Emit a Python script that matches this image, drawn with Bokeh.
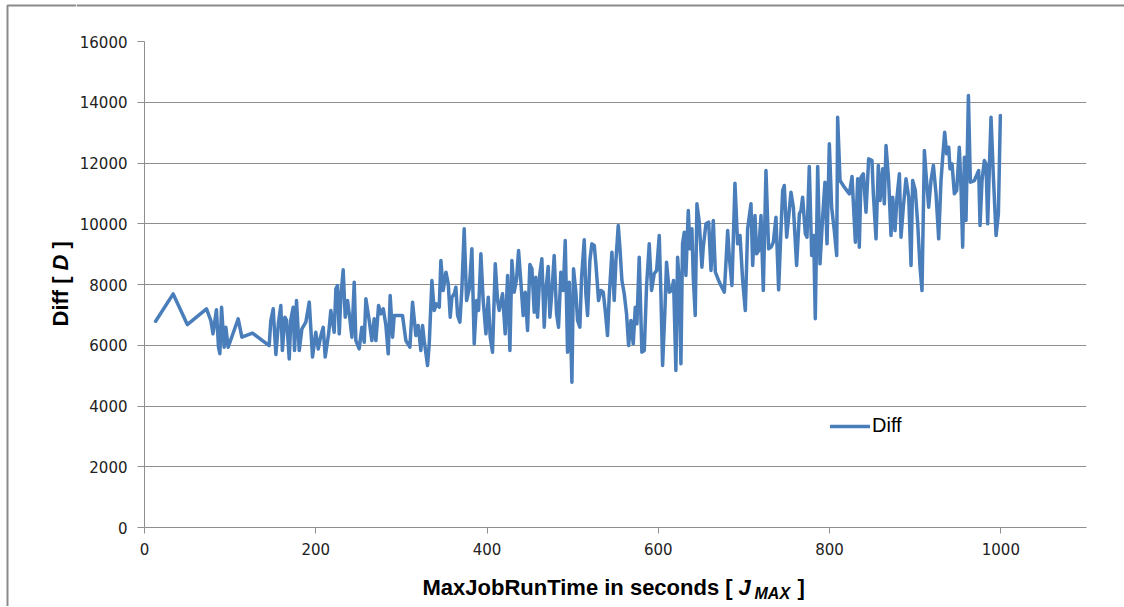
from bokeh.plotting import figure
from bokeh.models import FixedTicker, Label, Legend, LegendItem, Range1d
from bokeh.layouts import column, row
from bokeh.embed import file_html
from bokeh.resources import INLINE
import math

# ---- data ----
max_job_run_time = [
    13, 33.5, 50, 72.4, 77.5, 80, 84, 86.4, 88, 90, 93, 95, 97.7, 109.4, 113.7, 126, 145.6,
    147.5, 150.3, 153.4, 156.5, 159.2, 161, 163.9, 166, 169, 170.9, 173.6, 175.2, 177.5, 180.7,
    183.8, 188.4, 192.4, 196.2, 200, 202.9, 206, 208.7, 211, 215,
    217.6, 221.5, 223.5, 225.4, 227.4, 229.3, 232, 234.4, 237.1, 239.8, 242.2, 244.9, 246.8,
    250.7, 253.8, 256.6, 258.5, 262.4, 265.5, 268.2, 270.2, 273.3, 276, 278.8, 281.9, 284.6,
    286.9, 289.7, 291.6, 295.5, 301.3, 305.2, 309.9, 313, 316.9, 319.6, 322.7, 324.7, 326.6,
    330.5, 332.5, 335.6, 338.3, 341, 344.2, 346.1, 348.8, 352, 354.7, 357, 359, 361.7, 363.6,
    365.6, 368.3, 370.6, 373.3, 376.1, 379.2, 382.3, 385, 387.8, 390.1, 392.8, 395.5, 398.7,
    401.4, 403.7, 406.4, 409.6, 412.3, 414.2,
    418.1, 421.2, 424, 426.7, 429, 431.7, 434.5, 436.8, 439.5, 442.2, 444.6, 447.3, 450, 452.4,
    455.1, 457, 459, 461.7, 464, 466.8, 468.7, 471.4, 473.4, 475.7, 478.4, 481.2, 483.5, 486.2,
    489, 491.3, 494, 496, 499.1, 501, 503.7, 505.7, 508.4, 510.4, 513.5, 515.4, 517.4, 520.1,
    522.4, 525.2, 527.1, 530.2, 533, 535.7, 538, 540.7, 542.7, 545.8, 548.5, 550.5, 553.2,
    555.1, 557.5, 560.2, 562.9, 565.3, 568, 570.7, 573.1, 575, 577.7, 580.8, 583.6, 586.3,
    589.4, 592.1, 595.2, 598, 601.1, 603, 605, 607.7, 609.6, 612.8, 615.5, 617.8, 620.5, 622.5,
    624.4, 626.4, 628.3, 630.3, 632.2, 635, 636.9, 639.2, 640.8, 643.1, 645.1, 647.8, 650.9,
    652.5, 655.6, 658.8, 661.5, 664.2, 666.6, 671.2, 677.1, 681, 682.9, 686, 689.5, 692.6,
    695.4, 698.5, 701.6, 704.3, 708.2, 710.2, 712.9, 714.8, 717.2, 719.9, 722.6, 725.7, 728.8,
    731.6, 734.3, 737.4, 740.5, 743.2, 745.2, 747.1, 749.9, 752.2, 754.9, 757.7, 761.5, 764.7,
    766.6, 768.5, 771.7, 773.6, 776.3, 779.1, 781.4, 783.3, 786.1, 788.8, 791.9, 794.6, 797,
    799.7, 802.4, 805.5, 808.3, 809.4,
    812.2, 817.2, 823.1, 826.2, 827.7, 830.1, 832.8, 834.7, 836.7, 839.4, 842.5, 845.6, 849.5,
    851.1, 854.2, 856.9, 858.9, 862, 863.9, 865.9, 869, 871.7, 873.7, 876.4, 878.7, 881.5,
    883.4, 886.1, 889.2, 892.4, 895.1, 897, 900.1, 902.9, 905.6, 907.9, 910.7, 912.6, 915.7,
    918.4, 921.2, 924.3, 927.4, 930.1, 932.1, 934.4, 936.7, 939.1, 940.6, 943, 945.7, 948.4,
    951.5, 953.5, 955.4, 957.4, 959.3, 962.1, 964.4, 969.1, 974.1, 975.7, 978, 980.7, 982.7,
    984.6, 986.6, 988.5, 991.3, 994.4, 997.1, 999.4,
]
diff = [
    6790, 7690, 6680, 7200, 6810, 6375, 7170, 5935, 5720, 7250, 5935, 6590, 5935, 6870, 6265, 6400, 5990,
    6810, 7200, 5695, 6760, 7310, 5830, 6925, 6810, 5550, 6850, 7250, 5830, 7470, 5830,
    6540, 6760, 7420, 5610, 6430, 5880, 6320, 6590, 5610, 6375,
    7144, 6430, 7857, 7967, 6376, 7583, 8483, 6924, 7473, 6870, 6266, 8077, 6156,
    5882, 6595, 6102, 7528, 6815, 6156, 6870, 6156, 7308, 7034, 7199, 6650, 5717,
    7638, 6266, 6979, 6979, 6979, 6156, 5937, 7418, 6321, 6650, 5827, 6650, 6156,
    5333, 6047, 8131, 7144, 7363, 7254, 8790, 7802, 8406, 8022, 6924, 7583, 7693, 7912,
    6979, 6760, 7857, 9832, 7473, 7857, 9174, 6047, 7473, 7144, 9009, 7473, 6376,
    7583, 6266, 5772, 8680, 7473, 7144,
    7693, 6376, 8296, 5827, 8790, 7748, 8187, 9119, 8077, 6979, 7748, 6486, 8658, 8516,
    7089, 8241, 6924, 8351, 8845, 6596, 7803, 8593, 6924, 7748, 8955, 7034, 6596, 8406,
    7803, 9448, 5772, 8077, 4785, 8516, 7748, 6815, 6596, 8241, 9470, 7693, 6979, 8790,
    9339, 9284, 8680, 7473, 7803, 7748, 7144, 6321, 7638, 9064, 7473, 8790, 9942,
    9229, 8132, 7693, 7034, 5992, 6815, 6047, 7254, 6705, 8900, 5772, 5827, 7967,
    9339, 7803, 8351, 8461, 9613, 7693, 5333, 7144, 8735, 7748, 7803, 8132, 5169, 8900,
    8132, 5388, 9339, 9723, 8296, 10436, 9174, 9833, 8241, 6979, 10655, 10052, 8571,
    9229, 9997, 10052, 8461, 10107, 8406, 8077, 7747, 9777, 8900, 7967, 11336, 9338,
    9613, 8132, 7144, 9832, 10655, 8625, 10271, 9009, 9119, 10271, 7802, 11752, 9174,
    9229, 9393, 10216, 7824, 9777, 11094, 11259, 9558, 10216, 11039, 10545, 8625, 10326,
    10436, 10875, 9668, 9558, 11884, 8954, 9613, 6870, 11884, 8680, 10216, 11369, 9339,
    12630, 10545, 9777, 8954, 13508,
    11423, 11204, 10984, 11555, 10710, 9393, 11478, 9229, 11533, 11643, 10381, 12136, 12081,
    10984, 9503, 11917, 10765, 11807, 10655, 12575, 11423, 9613, 10874, 9777, 10874, 11643,
    9558, 10545, 11478, 10874, 8625, 11423, 11094, 9997, 8570, 7802, 12411, 11643, 10545,
    11423, 11917, 10984, 9503, 11423, 12191, 13014, 12301, 12520, 11807, 11972, 10984, 11094,
    12520, 11149, 9229, 12191, 10106, 14221, 11368, 11423, 11752, 9942, 11423, 12081, 11972,
    9997, 11862, 13508, 11533, 9613, 10326, 13563,
]
x_ticks = [0, 200, 400, 600, 800, 1000]
y_ticks = [0, 2000, 4000, 6000, 8000, 10000, 12000, 14000, 16000]
series_name = "Diff"

LINE_COLOR = "#4a7ebb"
GRID_COLOR = "#8e8e8e"
BORDER_COLOR = "#8a8a8a"
TEXT_FONT = "Liberation Sans"
TICK_FONT = "DejaVu Sans"

TOTAL_H = 606
LEFT_W = 76
RIGHT_W = 1124 - LEFT_W
TOP_H = 20
MID_H = 542
BOT_H = TOTAL_H - TOP_H - MID_H


def blank_fig(w, h):
    f = figure(width=w, height=h, x_range=Range1d(0, w), y_range=Range1d(0, h),
               output_backend="svg", toolbar_location=None,
               min_border=0, min_border_left=0, min_border_right=0,
               min_border_top=0, min_border_bottom=0, frame_align=False)
    f.axis.visible = False
    f.grid.visible = False
    f.outline_line_color = None
    f.background_fill_color = "white"
    f.border_fill_color = "white"
    return f


# ---- main chart ----
p = figure(
    width=RIGHT_W, height=MID_H,
    x_range=Range1d(0, 1100), y_range=Range1d(0, 16000),
    output_backend="svg", toolbar_location=None, frame_align=False,
    min_border_left=66, min_border_right=38, min_border_top=21, min_border_bottom=35,
)
p.outline_line_color = None
p.background_fill_color = "white"
p.border_fill_color = "white"

r = p.line(max_job_run_time, diff, line_color=LINE_COLOR, line_width=3.5,
           line_join="round", line_cap="round")

p.xaxis.ticker = FixedTicker(ticks=x_ticks)
p.yaxis.ticker = FixedTicker(ticks=y_ticks)
for ax in (p.xaxis[0], p.yaxis[0]):
    ax.axis_line_color = GRID_COLOR
    ax.axis_line_width = 1
    ax.major_tick_line_color = GRID_COLOR
    ax.major_tick_in = 0
    ax.minor_tick_line_color = None
    ax.major_label_text_font = TICK_FONT
    ax.major_label_text_font_size = "15px"
    ax.major_label_text_color = "#222222"
p.yaxis.major_tick_out = 7
p.yaxis.major_label_standoff = 10
p.xaxis.major_tick_out = 6
p.xaxis.major_label_standoff = 9
p.xgrid.grid_line_color = None
p.ygrid.grid_line_color = GRID_COLOR
p.ygrid.grid_line_width = 1

legend = Legend(items=[LegendItem(label=series_name, renderers=[r])],
                location=(686, 90), glyph_width=40, glyph_height=20, label_height=20,
                label_standoff=2, padding=0, margin=0, spacing=0,
                label_text_font=TEXT_FONT, label_text_font_size="20px",
                label_text_color="#000000",
                background_fill_alpha=0, border_line_color=None)
p.add_layout(legend)


def lab(f, text, x, y, size, style="bold", angle=0.0):
    f.add_layout(Label(x=x, y=y, text=text, text_font=TEXT_FONT, text_font_size=size,
                       text_font_style=style, text_color="#000000", angle=angle,
                       text_align="left", text_baseline="alphabetic"))


# ---- left strip: chart border + y-axis title ----
left = blank_fig(LEFT_W, TOTAL_H)
left.line([7, 7, LEFT_W], [0, TOTAL_H - 5, TOTAL_H - 5], line_color=BORDER_COLOR, line_width=2)
lab(left, "Diff [ ", 60, 280, "22px", angle=math.pi / 2)
lab(left, "D", 60, 336, "22px", "bold italic", angle=math.pi / 2)
lab(left, "]", 60, 358, "22px", angle=math.pi / 2)

# ---- top strip: chart border ----
top = blank_fig(RIGHT_W, TOP_H)
top.line([0, RIGHT_W], [TOP_H - 5, TOP_H - 5], line_color=BORDER_COLOR, line_width=2)

# ---- x-axis title ----
xlab = blank_fig(RIGHT_W, BOT_H)
lab(xlab, "MaxJobRunTime in seconds [ ", 346, 19, "22px")
lab(xlab, "J", 662, 19, "22px", "bold italic")
lab(xlab, "MAX", 678, 13, "16px", "bold italic")
lab(xlab, "]", 721, 19, "22px")

layout = row(left, column(top, p, xlab, spacing=0), spacing=0)

open("out.html", "w").write(file_html(layout, INLINE))
